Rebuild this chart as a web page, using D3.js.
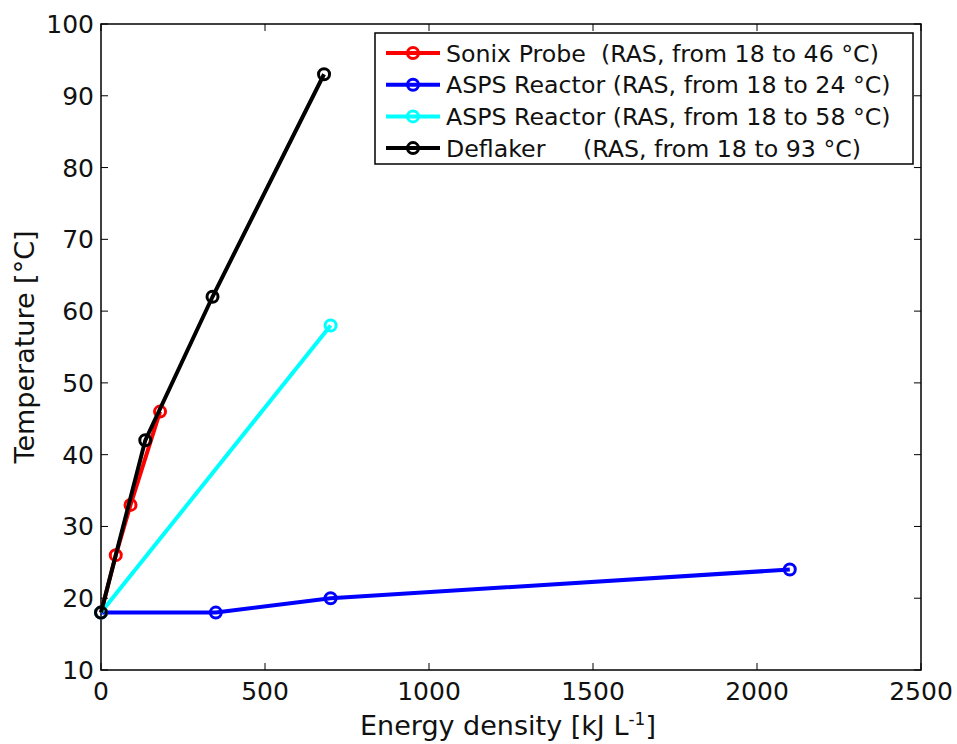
<!DOCTYPE html>
<html><head><meta charset="utf-8">
<script src="https://cdn.jsdelivr.net/npm/d3@7"></script>
<style>body{margin:0;background:#fff}svg text{font-family:"DejaVu Sans",Verdana,sans-serif;fill:#111}</style>
</head><body><svg id="c" width="957" height="744"></svg>
<script>
const xTicks=[0,500,1000,1500,2000,2500];
const yTicks=[10,20,30,40,50,60,70,80,90,100];
const sonixX=[0,45,90,180], sonixY=[18,26,33,46];
const asps24X=[0,350,700,2100], asps24Y=[18,18,20,24];
const asps58X=[0,700], asps58Y=[18,58];
const deflX=[0,135,340,680], deflY=[18,42,62,93];
const seriesNames=["Sonix Probe  (RAS, from 18 to 46 °C)","ASPS Reactor (RAS, from 18 to 24 °C)","ASPS Reactor (RAS, from 18 to 58 °C)","Deflaker     (RAS, from 18 to 93 °C)"];
const colors=["#ff0000","#0000ff","#00ffff","#000000"];
const series=[[sonixX,sonixY],[asps24X,asps24Y],[asps58X,asps58Y],[deflX,deflY]];

const svg=d3.select("#c");
const L=101,R=921,T=24,B=670;
const x=d3.scaleLinear().domain([0,2500]).range([L,R]);
const y=d3.scaleLinear().domain([10,100]).range([B,T]);
const g=svg.append("g");
g.append("rect").attr("x",L).attr("y",T).attr("width",R-L).attr("height",B-T).attr("fill","#fff").attr("stroke","#000").attr("stroke-width",1.5);
const tl=7;
xTicks.forEach(t=>{
  g.append("line").attr("x1",x(t)).attr("x2",x(t)).attr("y1",B).attr("y2",B-tl).attr("stroke","#000");
  g.append("line").attr("x1",x(t)).attr("x2",x(t)).attr("y1",T).attr("y2",T+tl).attr("stroke","#000");
  g.append("text").attr("x",x(t)).attr("y",B+30).attr("text-anchor","middle").attr("font-size",25).text(t);
});
yTicks.forEach(t=>{
  g.append("line").attr("x1",L).attr("x2",L+tl).attr("y1",y(t)).attr("y2",y(t)).attr("stroke","#000");
  g.append("line").attr("x1",R).attr("x2",R-tl).attr("y1",y(t)).attr("y2",y(t)).attr("stroke","#000");
  g.append("text").attr("x",L-7).attr("y",y(t)+9).attr("text-anchor","end").attr("font-size",25).text(t);
});
const line=d3.line().x(d=>x(d[0])).y(d=>y(d[1]));
series.forEach((s,i)=>{
  const pts=s[0].map((v,j)=>[v,s[1][j]]);
  g.append("path").attr("d",line(pts)).attr("fill","none").attr("stroke",colors[i]).attr("stroke-width",4);
  pts.forEach(p=>g.append("circle").attr("cx",x(p[0])).attr("cy",y(p[1])).attr("r",5.5).attr("fill","none").attr("stroke",colors[i]).attr("stroke-width",3));
});
// legend
const lg=svg.append("g");
lg.append("rect").attr("x",375).attr("y",33).attr("width",538).attr("height",131).attr("fill","#fff").attr("stroke","#000").attr("stroke-width",1.5);
seriesNames.forEach((n,i)=>{
  const yy=53+i*31.7;
  lg.append("line").attr("x1",386).attr("x2",440).attr("y1",yy).attr("y2",yy).attr("stroke",colors[i]).attr("stroke-width",4);
  lg.append("circle").attr("cx",413).attr("cy",yy).attr("r",5.5).attr("fill","none").attr("stroke",colors[i]).attr("stroke-width",3);
  lg.append("text").attr("x",446).attr("y",yy+8.5).attr("font-size",23.7).style("white-space","pre").text(n);
});
svg.append("text").attr("x",508).attr("y",735).attr("text-anchor","middle").attr("font-size",27)
  .html('Energy density [kJ L<tspan dy="-10" font-size="17">-1</tspan><tspan dy="10">]</tspan>');
svg.append("text").attr("transform","translate(34,347) rotate(-90)").attr("text-anchor","middle").attr("font-size",27).text("Temperature [°C]");
</script></body></html>
